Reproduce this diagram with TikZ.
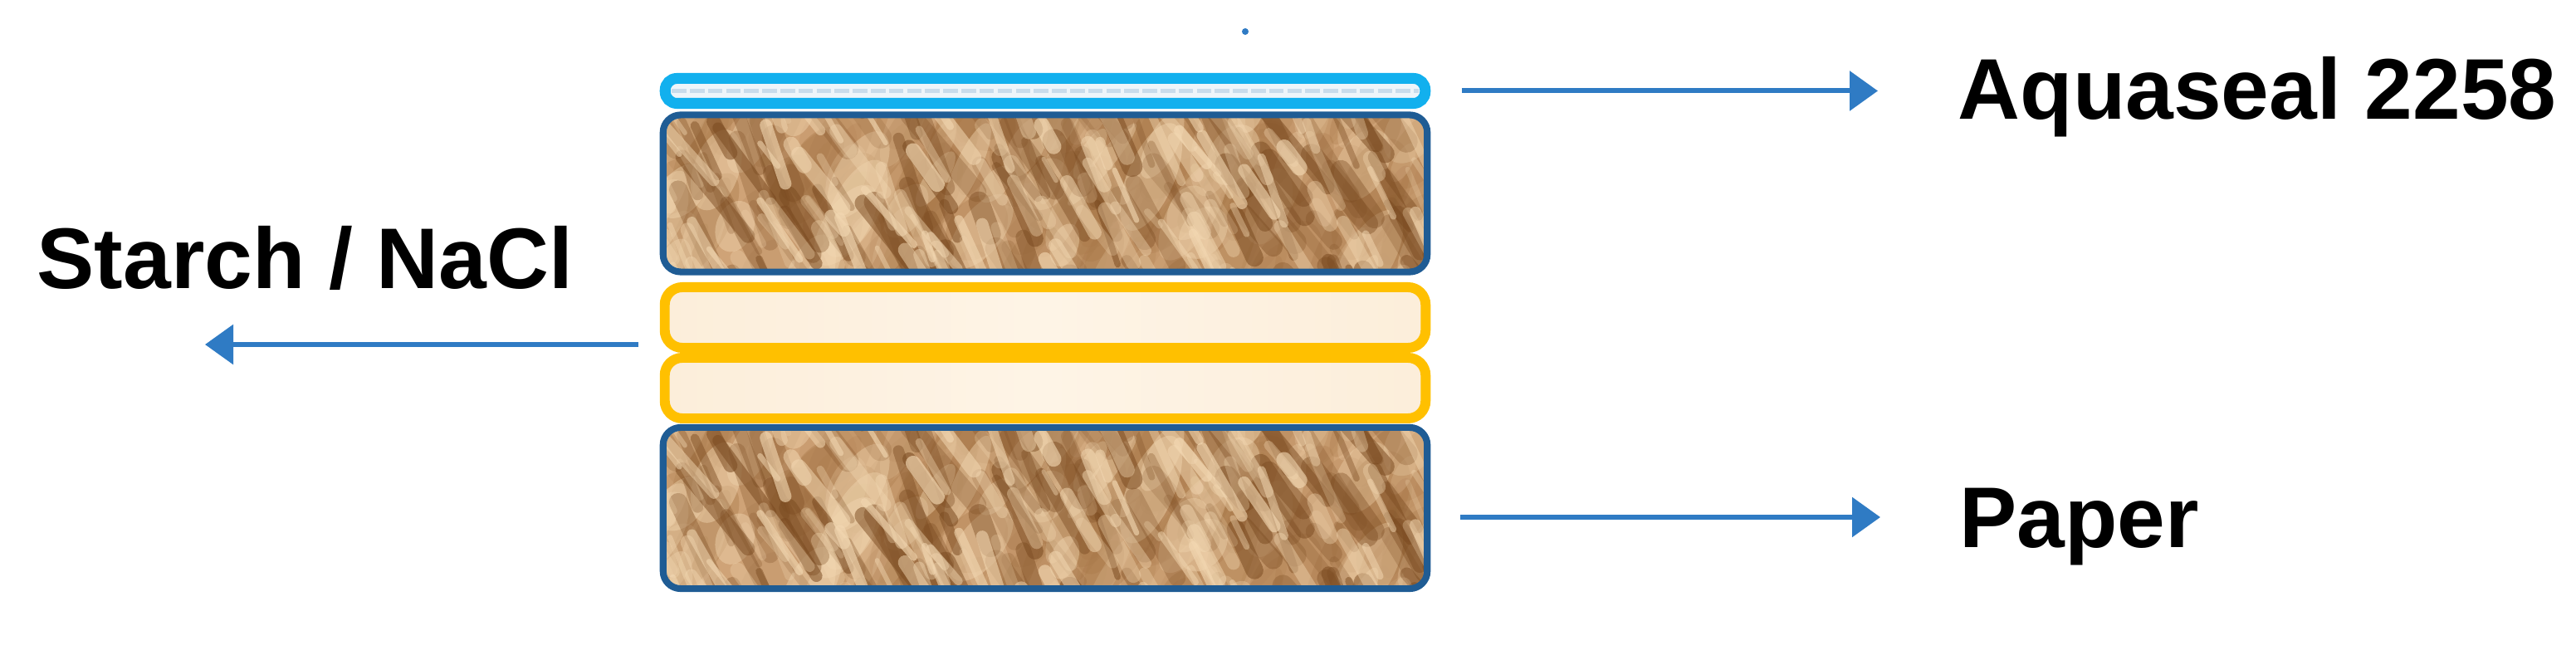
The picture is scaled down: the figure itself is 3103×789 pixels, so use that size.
\documentclass[tikz,border=0pt]{standalone}
\usepackage{fontspec}
\setmainfont{Liberation Sans}
\usetikzlibrary{arrows.meta,calc}
\definecolor{arrowblue}{HTML}{2F7BC4}
\definecolor{sealblue}{HTML}{12B0EE}
\definecolor{sealin}{HTML}{EEF5FA}
\definecolor{sealdash}{HTML}{C9DCEB}
\definecolor{paperedge}{HTML}{1F5C94}
\definecolor{starchedge}{HTML}{FFC000}
\definecolor{starchin}{HTML}{FCEEDA}
\definecolor{starchmid}{HTML}{FEF4E6}
\definecolor{kraftbase}{HTML}{CFA377}
\definecolor{kraftmid}{HTML}{A9794A}
\definecolor{kraftdark}{HTML}{7A4A20}
\definecolor{kraftlight}{HTML}{F3D8B2}
% #1,#2: top-left corner; #3,#4: width, height (px units)
\newcommand\kraftat[4]{%
  \pgfmathsetseed{11}%
  \begin{scope}
    \clip[rounded corners=6pt] (#1,#2) rectangle ++(#3,#4);
    \fill[kraftbase] (#1,#2) rectangle ++(#3,#4);
    \begin{scope}[shift={(#1,#2)}]
    \foreach \i in {1,...,150}{%
      \pgfmathsetmacro\px{rnd*950-10}%
      \pgfmathsetmacro\py{rnd*230-15}%
      \pgfmathsetmacro\ra{12+rnd*25}%
      \pgfmathsetmacro\rb{30+rnd*60}%
      \pgfmathsetmacro\op{0.10+rnd*0.30}%
      \pgfmathsetmacro\rot{50+rnd*25}%
      \fill[kraftmid, opacity=\op, rotate around={\rot:(\px,\py)}] (\px,\py) ellipse ({\rb} and {\ra});
    }
    \foreach \i in {1,...,60}{%
      \pgfmathsetmacro\px{rnd*950-10}%
      \pgfmathsetmacro\py{rnd*230-15}%
      \pgfmathsetmacro\ra{10+rnd*20}%
      \pgfmathsetmacro\rb{25+rnd*45}%
      \pgfmathsetmacro\op{0.15+rnd*0.30}%
      \pgfmathsetmacro\rot{50+rnd*25}%
      \fill[kraftlight, opacity=\op, rotate around={\rot:(\px,\py)}] (\px,\py) ellipse ({\rb} and {\ra});
    }
    \foreach \i in {1,...,140}{%
      \pgfmathsetmacro\px{rnd*980-40}%
      \pgfmathsetmacro\py{rnd*270-60}%
      \pgfmathsetmacro\ang{48+rnd*25}%
      \pgfmathsetmacro\len{30+rnd*100}%
      \pgfmathsetmacro\lw{2+rnd*6}%
      \pgfmathsetmacro\op{0.15+rnd*0.40}%
      \draw[kraftdark, line width=\lw pt, line cap=round, opacity=\op] (\px,\py) -- ++(\ang:\len);
    }
    \foreach \i in {1,...,150}{%
      \pgfmathsetmacro\px{rnd*980-40}%
      \pgfmathsetmacro\py{rnd*270-60}%
      \pgfmathsetmacro\ang{48+rnd*25}%
      \pgfmathsetmacro\len{20+rnd*80}%
      \pgfmathsetmacro\lw{1.5+rnd*4}%
      \pgfmathsetmacro\op{0.2+rnd*0.45}%
      \draw[kraftlight, line width=\lw pt, line cap=round, opacity=\op] (\px,\py) -- ++(\ang:\len);
    }
    \end{scope}
  \end{scope}}
\tikzset{
  layerbox/.style={rectangle, rounded corners=6pt, inner sep=0pt, outer sep=0pt},
  paperlayer/.style={layerbox, draw=paperedge, line width=2.3pt, minimum width=9.20cm},
  seallayer/.style={layerbox, rounded corners=4pt, draw=sealblue, line width=3.7pt,
    minimum width=9.15cm, minimum height=0.30cm, fill=sealin},
  starchlayer/.style={layerbox, draw=starchedge, line width=3.4pt,
    minimum width=9.16cm, minimum height=0.73cm,
    left color=starchin, right color=starchin, middle color=starchmid},
  lbl/.style={font=\fontsize{29.5}{35}\selectfont\bfseries, inner sep=0pt, anchor=base west},
  arr/.style={draw=arrowblue, line width=1.7pt, -{Triangle[length=0.34cm,width=0.47cm]}},
  speckdot/.style={circle, fill=arrowblue, inner sep=0pt, minimum size=0.08cm},
  sealdots/.style={sealdash, line width=1.6pt, dash pattern=on 5pt off 1.2pt}
}
\begin{document}
\begin{tikzpicture}[x=0.01cm, y=-0.01cm]
  \useasboundingbox (0,0) rectangle (3103,789);
  % paper textures
  \kraftat{799}{138.5}{920}{189}
  \kraftat{799}{515}{920}{194}
  % layers
  \node[seallayer] (seal) at (1259,109.5) {};
  \draw[sealdots] ($(seal.west)+(8,0)$) -- ($(seal.east)+(-8,0)$);
  \node[paperlayer, minimum height=1.89cm] (paper1) at (1259,233) {};
  \node[starchlayer] (starch1) at (1259,382.5) {};
  \node[starchlayer] (starch2) at (1259,467.5) {};
  \node[paperlayer, minimum height=1.94cm] (paper2) at (1259,612) {};
  \node[speckdot] (speck) at (1500,38) {};
  % labels
  \node[lbl] (aqua) at (2358,144) {Aquaseal 2258};
  \node[lbl] (paperlbl) at (2360,660) {Paper};
  \node[lbl] (starchlbl) at (44,348) {Starch / NaCl};
  \coordinate (starchtip) at (247,415);
  % connectors
  \draw[arr] ($(seal.east)+(44,0)$) -- ($(seal.east -| aqua.west)+(-96,0)$);
  \draw[arr] ($(paper2.east)+(40,11)$) -- ($(paper2.east -| paperlbl.west)+(-95,11)$);
  \draw[arr] ($(starch1.west)+(-32,32.5)$) -- (starchtip);
\end{tikzpicture}
\end{document}
